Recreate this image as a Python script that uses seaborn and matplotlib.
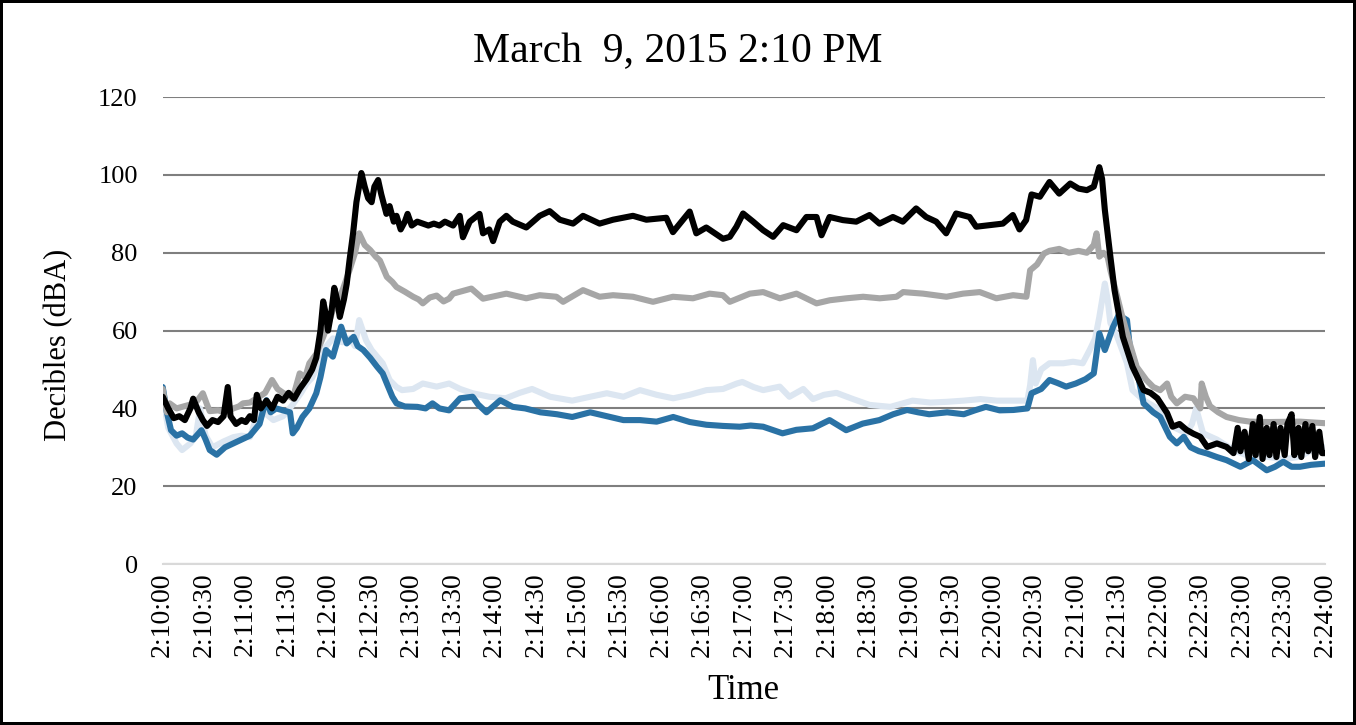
import matplotlib
matplotlib.use("Agg")
import matplotlib.pyplot as plt
import seaborn as sns

sns.set_style("white")
plt.rcParams["font.family"] = ["Liberation Serif", "DejaVu Serif"]
plt.rcParams["text.color"] = "black"
plt.rcParams["axes.labelcolor"] = "black"
plt.rcParams["xtick.color"] = "black"
plt.rcParams["ytick.color"] = "black"

# seconds after 2:10:00 and sound level (dBA)
black_t = [0, 4, 8, 12, 16, 20, 22, 26, 29, 32, 36, 40, 44, 47, 49, 53, 57, 60, 63, 66, 68, 71,
           75, 79, 83, 87, 91, 95, 99, 104, 108, 111, 114, 116, 118, 119.5, 122, 124, 126, 128,
           131, 133, 135, 137.6, 140, 143.6, 146, 148.5, 151, 153, 155.7, 158, 161.7, 164, 167,
           169, 172, 175, 177, 180, 184, 188, 192, 196, 200, 204, 209.9, 214.7, 217, 221.9,
           229, 231.5, 236, 238.8, 243.6, 248.4, 253, 262.8, 272.5, 279.7, 287, 296.6, 303.8,
           315.8, 325.5, 339.9, 349.6, 364, 368.8, 380.9, 385.7, 392.9, 405, 409.9, 414.7,
           419.5, 426.8, 434, 441.2, 448.5, 458.1, 465.3, 472.6, 476.2, 482, 491.6, 501.3,
           510.9, 518.1, 527.8, 535, 544.6, 551.8, 559.1, 566.3, 573.5, 583.2, 588, 597.6,
           607.3, 614.5, 619.3, 624.1, 628, 634, 641, 648, 656, 662, 668, 673, 677, 679, 681,
           685, 688, 694, 701, 709, 714, 719, 726, 730, 735, 740, 745, 750, 755, 762, 769, 774,
           777, 779, 782, 785, 788, 790, 793, 795, 798, 800, 803, 805, 808, 811, 813, 816, 818,
           821, 823, 826, 828, 831, 833, 836, 838, 840]
black_v = [43, 40, 37.5, 38, 37, 40, 42.5, 39, 37, 35.5, 37, 36.5, 38, 45.5, 38, 36, 37, 36.5,
           38, 37, 43.5, 40, 42, 40, 43, 42, 44, 42.5, 45, 47.5, 50, 53, 60, 67.5, 64, 60, 65,
           71, 68, 63.5, 68, 72, 78, 85, 93, 100.5, 97, 94, 93, 97, 98.7, 95, 90, 92, 88, 89.5,
           86, 88, 90, 87, 88, 87.5, 87, 87.5, 87, 88, 87, 89.5, 84, 88, 90, 85, 86, 83, 88,
           89.5, 88, 86.5, 89.5, 90.7, 88.5, 87.5, 89.5, 87.5, 88.5, 89.5, 88.5, 89, 85.3, 90.6,
           85, 86.5, 83.6, 84.1, 86.7, 90.1, 88, 85.8, 84.1, 87.1, 85.8, 89.2, 89.2, 84.5, 89.2,
           88.4, 88, 89.7, 87.5, 89.2, 88, 91.4, 89.2, 88, 85, 90.1, 89.2, 86.7, 87.1, 87.5,
           89.7, 86, 88.4, 95, 94.4, 98.2, 95.2, 97.8, 96.5, 96.1, 97, 102, 99, 91, 79, 70.4,
           58.4, 50.7, 44.7, 44, 42.6, 38.8, 35.3, 36, 34.5, 33.5, 32.7, 30.1, 31, 30.1, 28.5,
           35, 29, 34, 27, 36, 28, 37.8, 27, 35, 28, 36, 27.5, 35, 28, 36, 38.5, 28, 35, 27.5,
           36, 29, 35.5, 27.5, 34, 28.5, 28.5]

gray_t = [0, 3, 5, 10, 15, 20, 25, 29, 32, 34, 40, 45, 51, 55, 58, 63, 68, 74, 79, 83, 87, 94,
          99, 103, 106, 111, 116, 120, 123, 126, 130, 135, 139, 142, 146, 150, 154, 157, 162,
          166, 169, 175, 181, 185, 188, 193, 198, 203, 207, 209.9, 223.1, 231.5,
          248.4, 262.8, 272.5, 284.6, 289.4, 303.8, 315.8, 325.5, 339.9, 354.4, 368.8, 383.3,
          395.3, 404.9, 409.9, 424.4, 434, 446.1, 458.1, 472.6, 482.2, 494.2, 506.3, 518.3,
          530.4, 535.2, 549.6, 566.5, 578.5, 590.6, 602.6, 614.7, 624.3, 627, 632, 637, 641,
          648, 655, 662, 668, 673, 675, 677, 680, 683, 685, 690, 693, 699, 704, 711, 716, 721,
          726, 729, 733, 739, 745, 750, 751, 754, 757, 763, 769, 778, 786, 800, 822, 840]
gray_v = [45, 39, 41.3, 40, 40.5, 41, 42, 43.9, 41, 39.3, 39.5, 39, 40, 40.5, 41.3, 41.5, 42.6,
          44, 47.3, 45, 44, 42.6, 49, 48, 51.6, 54, 58.4, 62, 65.3, 67, 70.4, 75.5, 80, 85, 82,
          80.7, 79, 78, 73.8, 72.5, 71.2, 70, 68.7, 68, 67, 68.5, 69, 67.5, 68.2, 69.5,
          70.8, 68.2, 69.5, 68.3, 69.1, 68.7, 67.4, 70.4, 68.7, 69.1, 68.7, 67.4, 68.7, 68.3,
          69.5, 69.1, 67.4, 69.5, 69.9, 68.3, 69.5, 67, 67.8, 68.3, 68.7, 68.3, 68.7, 69.9,
          69.5, 68.7, 69.5, 69.9, 68.3, 69.1, 68.7, 75.5, 77, 79.8, 80.5, 81, 80, 80.5, 80, 82,
          85, 79, 80, 79, 75.5, 68.7, 64.4, 56.7, 50.7, 47.3, 45.5, 44.7, 46.4, 43, 41.3, 43,
          42.6, 40, 46.4, 43, 40.6, 39, 37.8, 37, 36.6, 36.5, 36.6, 36.2]

pale_t = [0, 4, 10, 14, 20, 24, 27, 31, 36, 44, 51, 57, 63, 70, 75, 80, 87, 94, 100, 104, 108,
          112, 116, 123, 130, 135, 139, 142, 147, 151, 155, 159, 164, 169, 173, 181, 188, 198,
          207, 215, 224, 236, 248, 258, 267, 280, 296, 309, 321, 333, 345, 357, 369, 381, 393,
          405, 415, 419, 427, 434, 446, 453, 463, 470, 478, 487, 499, 511, 526, 542, 555, 567,
          579, 591, 603, 615, 625, 627, 629, 631, 635, 641, 651, 658, 665, 670, 674, 677, 681,
          683, 685, 690, 697, 701, 709, 719, 725, 730, 740, 744, 747, 752, 762, 774, 786, 798,
          810, 822, 834, 840]
pale_v = [42.6, 35, 31, 29.3, 31, 33, 40, 33, 30, 31.5, 32.6, 33, 32.6, 40, 38.5, 37, 38, 41, 44,
          46.4, 47.9, 51, 55, 58, 57, 58, 56, 62.7, 57.5, 55, 53.3, 51.6, 47.3, 45.5, 44.7, 45,
          46.4, 45.6, 46.4, 45, 43.9, 43, 42.6, 44, 45, 43, 42, 43, 43.9, 43, 44.7, 43.5, 42.6,
          43.5, 44.7, 45, 46.4, 46.8, 45.5, 44.7, 45.6, 43, 45, 42.4, 43.5, 44, 42.4, 40.9,
          40.4, 42, 41.5, 41.7, 42, 42.4, 42, 42, 42, 46, 52.4, 46.4, 50, 51.6, 51.6, 52, 51.6,
          55, 58, 63.5, 72.1, 68, 62, 58.4, 51.6, 44.7, 42.1, 40, 37, 35.3, 33.6, 36, 40, 33.6,
          32, 29.3, 27.6, 27.6, 26.9, 27.6, 30, 30]

blue_t = [0, 3, 6, 10, 14, 18, 22, 28, 31, 34, 39, 45, 51, 57, 63, 70, 73, 75, 78, 82, 87, 92,
          94, 97, 101, 106, 111, 114, 118, 123, 126, 129, 133, 138, 141, 145, 150, 155, 159,
          162, 166, 169, 175, 184, 190, 195, 200, 207, 215, 224, 228, 234, 244, 253, 262, 273,
          285, 296, 309, 321, 333, 345, 357, 369, 381, 393, 405, 417, 425, 434, 448, 458, 470,
          482, 494, 506, 518, 528, 538, 546, 554, 567, 579, 587, 595, 605, 615, 625, 628, 635,
          641, 647, 653, 660, 667, 673, 677, 681, 687, 691, 697, 699, 704, 709, 716, 721, 728,
          733, 738, 743, 749, 755, 762, 769, 779, 788, 798, 804, 810, 816, 822, 830, 840]
blue_v = [45.5, 39, 34.4, 33, 33.6, 32.5, 32, 34.4, 32, 29.3, 28.1, 30, 31, 32, 33, 36, 40, 42.1,
          39, 40, 39.5, 39, 33.6, 35, 37.8, 40, 43.9, 48, 55, 53.3, 57, 61, 56.7, 58.4, 56, 55,
          53, 50.7, 49, 46.4, 43, 41.3, 40.5, 40.4, 40, 41.3, 40, 39.5, 42.6, 43, 41, 39, 42.1,
          40.4, 40, 39, 38.5, 37.8, 39, 38, 37, 37, 36.6, 37.8, 36.5, 35.8, 35.5, 35.3, 35.6,
          35.3, 33.6, 34.5, 34.9, 37, 34.4, 36.1, 37, 38.5, 39.6, 39, 38.5, 39, 38.5, 39.5,
          40.4, 39.5, 39.6, 40, 43.9, 45, 47.3, 46.5, 45.6, 46.4, 47.5, 49, 59.3, 55, 61, 64,
          62.7, 56, 50.2, 41.3, 39, 37.8, 32.7, 31, 32.7, 30, 29, 28.4, 27.5, 26.7, 25, 26.7,
          24.1, 25, 26.3, 25, 25, 25.5, 25.8]

tick_secs = list(range(0, 841, 30))
tick_labels = ["2:%02d:%02d" % (10 + s // 60, s % 60) for s in tick_secs]

fig = plt.figure(figsize=(13.56, 7.25), dpi=100)
fig.patch.set_edgecolor("black")
fig.patch.set_linewidth(3)
ax = fig.add_axes([0.120, 0.222, 0.857, 0.644])

lw = 4.4
sns.lineplot(x=pale_t, y=pale_v, ax=ax, color="#dce6f1", linewidth=lw)
sns.lineplot(x=blue_t, y=blue_v, ax=ax, color="#2a72a5", linewidth=lw)
sns.lineplot(x=gray_t, y=gray_v, ax=ax, color="#a6a6a6", linewidth=lw)
sns.lineplot(x=black_t, y=black_v, ax=ax, color="black", linewidth=lw)

ax.set_xlim(0, 840)
ax.set_ylim(0, 120)
ax.set_yticks(range(0, 121, 20))
ax.set_xticks(tick_secs)
ax.set_xticklabels(tick_labels, rotation=90, fontsize=20)
ax.tick_params(axis="y", labelsize=19, length=0, pad=18)
ax.tick_params(axis="x", length=0, pad=6)
ax.yaxis.grid(True, color="#7f7f7f", linewidth=1.5)
ax.set_axisbelow(True)
for side in ["top", "right", "left"]:
    ax.spines[side].set_visible(False)
ax.spines["bottom"].set_color("#d9d9d9")
ax.spines["bottom"].set_linewidth(1.5)

ax.set_ylabel("Decibles (dBA)", fontsize=22)
ax.yaxis.set_label_coords(-0.077, 0.47)
ax.set_xlabel("Time", fontsize=25)
ax.xaxis.set_label_coords(0.5, -0.235)
fig.suptitle("March  9, 2015 2:10 PM", fontsize=30, y=0.955)

fig.savefig("out.png", dpi=100)
